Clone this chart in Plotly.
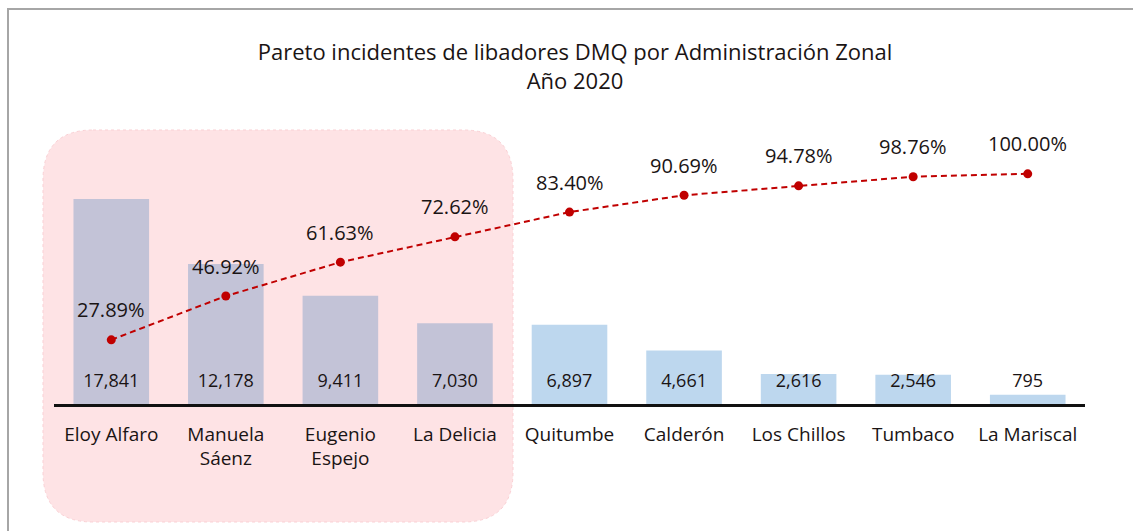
import plotly.graph_objects as go

categories = ["Eloy Alfaro", "Manuela<br>Sáenz", "Eugenio<br>Espejo", "La Delicia",
              "Quitumbe", "Calderón", "Los Chillos", "Tumbaco", "La Mariscal"]
incidents = [17841, 12178, 9411, 7030, 6897, 4661, 2616, 2546, 795]
cum_pct = [27.89, 46.92, 61.63, 72.62, 83.40, 90.69, 94.78, 98.76, 100.00]
n_highlight = 4

W_IMG, H_IMG = 1133, 531
L, R, T, B = 54, 1085, 120, 404
PW, PH = R - L, B - T
y1_max = 24717
y2_max = 123.4

def px(X):
    return (X - L) / PW

def py(Y):
    return (B - Y) / PH

bar_colors = ["#C3C3D7" if i < n_highlight else "#BDD7EE" for i in range(len(categories))]
FONT = "Open Sans"
TXT = "#1a1414"

fig = go.Figure()
fig.add_trace(go.Bar(x=categories, y=incidents, marker=dict(color=bar_colors, line=dict(width=0)),
                     width=0.66, hoverinfo="x+y", showlegend=False))
label_y = y1_max * (B - 382) / PH
fig.add_trace(go.Scatter(x=categories, y=[label_y] * len(categories), mode="text",
                         text=[f"{v:,}" for v in incidents],
                         textfont=dict(family=FONT, size=18, color=TXT),
                         hoverinfo="skip", showlegend=False))
fig.add_trace(go.Scatter(x=categories, y=cum_pct, yaxis="y2", mode="lines+markers",
                         line=dict(color="#C00000", width=2, dash="6px,4px"),
                         marker=dict(color="#C00000", size=9),
                         showlegend=False))

for c, p in zip(categories, cum_pct):
    fig.add_annotation(x=c, y=p, yref="y2", text=f"{p:.2f}%", showarrow=False,
                       yshift=30, font=dict(family=FONT, size=20, color=TXT))

# rounded highlight rectangle
x0, x1, yt, yb, r = 43, 513, 130, 522, 50
pts = [
    ("M", x0 + r, yt), ("L", x1 - r, yt), ("Q", x1, yt, x1, yt + r), ("L", x1, yb - r),
    ("Q", x1, yb, x1 - r, yb), ("L", x0 + r, yb), ("Q", x0, yb, x0, yb - r),
    ("L", x0, yt + r), ("Q", x0, yt, x0 + r, yt)
]
path = ""
for seg in pts:
    cmd = seg[0]
    coords = seg[1:]
    parts = []
    for i in range(0, len(coords), 2):
        parts.append(f"{px(coords[i]):.5f},{py(coords[i+1]):.5f}")
    path += cmd + " " + " ".join(parts) + " "
path += "Z"
fig.add_shape(type="path", path=path, xref="paper", yref="paper", layer="below",
              fillcolor="#FEE3E5", line=dict(color="#FAD0D4", width=1, dash="dot"))

# outer frame (left and top edges)
frame = f"M {px(8):.5f},{py(600):.5f} L {px(8):.5f},{py(9):.5f} L {px(1200):.5f},{py(9):.5f}"
fig.add_shape(type="path", path=frame, xref="paper", yref="paper",
              line=dict(color="#A6A6A6", width=2))

fig.update_layout(
    width=W_IMG, height=H_IMG,
    margin=dict(l=L, r=W_IMG - R, t=T, b=H_IMG - B),
    paper_bgcolor="white", plot_bgcolor="rgba(0,0,0,0)",
    title=dict(text="Pareto incidentes de libadores DMQ por Administración Zonal<br>Año 2020",
               x=px(575), xref="paper", xanchor="center", y=1 - 60 / H_IMG, yanchor="middle",
               font=dict(family=FONT, size=22, color=TXT)),
    xaxis=dict(showline=True, linecolor="#111111", linewidth=2.5, showgrid=False,
               ticks="", ticklabelstandoff=11,
               tickfont=dict(family=FONT, size=19, color=TXT), fixedrange=True),
    yaxis=dict(range=[0, y1_max], visible=False, showgrid=False),
    yaxis2=dict(range=[0, y2_max], overlaying="y", visible=False, showgrid=False),
    bargap=0.34,
)

fig.write_html("out.html", config={"displayModeBar": False},
               post_script="document.body.style.margin='0';")
